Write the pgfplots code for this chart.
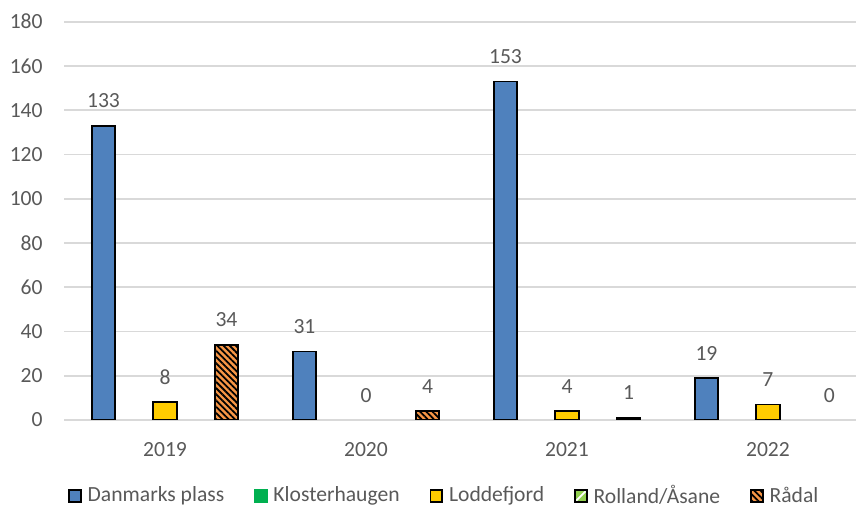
\documentclass[border=0pt]{standalone}
\usepackage{pgfplots}
\usepackage{pgfplotstable}
\pgfplotsset{compat=1.18}
\usepackage{fontspec}
\setmainfont{Carlito}
\usetikzlibrary{patterns,patterns.meta}

\definecolor{dpblue}{HTML}{4F81BD}
\definecolor{lodyellow}{HTML}{FFCC00}
\definecolor{radorange}{HTML}{F79646}
\definecolor{klgreen}{HTML}{00B050}
\definecolor{rolgreen}{HTML}{92D050}
\definecolor{gridgrey}{HTML}{D9D9D9}
\definecolor{textgrey}{HTML}{595959}

\newcommand{\chartfont}{\fontsize{10.8}{13}\selectfont}

% counts per year (0 = 2019 ... 3 = 2022)
\pgfplotstableread{
x y
0 133
1 31
2 153
3 19
}\danmarks
\pgfplotstableread{
x y
0 8
2 4
3 7
}\lodde
\pgfplotstableread{
x y
0 34
1 4
2 1
}\raadal

\begin{document}
\begin{tikzpicture}
\begin{axis}[
  at={(32.25pt,44pt)}, anchor=south west,
  scale only axis, width=395.75pt, height=199.15pt,
  ymin=0, ymax=180, ytick={0,20,...,180},
  xmin=-0.5, xmax=3.438,
  xtick={0,1,2,3}, xticklabels={2019,2020,2021,2022},
  ymajorgrids, grid style={gridgrey, line width=0.85pt},
  axis line style={draw=none}, major tick length=0pt,
  tick style={draw=none},
  tick label style={font=\chartfont, text=textgrey, inner sep=0pt},
  yticklabel style={anchor=east, xshift=-10.75pt},
  xticklabel style={anchor=north, yshift=-10.85pt},
  /pgf/number format/assume math mode=true,
  ybar, bar width=11.8pt,
  every node near coord/.append style={font=\chartfont, text=textgrey,
    inner sep=0pt, yshift=8.5pt},
  legend columns=-1,
  legend style={draw=none, fill=none, inner sep=0pt, outer sep=0pt,
    font=\chartfont, text=textgrey,
    at={(0.4786,-0.1905)}, anchor=center,
    nodes={inner sep=0pt},
    /tikz/every odd column/.append style={column sep=3pt},
    /tikz/every even column/.append style={column sep=15pt}},
]
% legend swatches
\addlegendimage{legend image code/.code={
  \draw[fill=dpblue, line width=0.8pt] (0pt,-2.95pt) rectangle (5.9pt,2.95pt);}}
\addlegendentry{Danmarks plass}
\addlegendimage{legend image code/.code={
  \fill[klgreen] (0pt,-3.1pt) rectangle (6.2pt,3.1pt);}}
\addlegendentry{Klosterhaugen}
\addlegendimage{legend image code/.code={
  \draw[fill=lodyellow, line width=0.8pt] (0pt,-2.95pt) rectangle (5.9pt,2.95pt);}}
\addlegendentry{Loddefjord}
\addlegendimage{legend image code/.code={
  \fill[rolgreen] (0pt,-2.95pt) rectangle (5.9pt,2.95pt);
  \draw[white, line width=0.9pt] (0.6pt,-2.35pt) -- (5.3pt,2.35pt);
  \draw[line width=0.8pt] (0pt,-2.95pt) rectangle (5.9pt,2.95pt);}}
\addlegendentry{Rolland/Åsane}
\addlegendimage{legend image code/.code={
  \fill[radorange] (0pt,-2.95pt) rectangle (5.9pt,2.95pt);
  \fill[pattern={Lines[angle=-45,distance=2.2pt,line width=0.9pt]}, pattern color=black]
    (0pt,-2.95pt) rectangle (5.9pt,2.95pt);
  \draw[line width=0.8pt] (0pt,-2.95pt) rectangle (5.9pt,2.95pt);}}
\addlegendentry{Rådal}

% Danmarks plass
\addplot[forget plot, draw=black, line width=0.9pt, fill=dpblue, bar shift=-30.75pt,
  nodes near coords] table {\danmarks};
% Loddefjord
\addplot[forget plot, draw=black, line width=0.9pt, fill=lodyellow, bar shift=0pt,
  nodes near coords] table {\lodde};
% Rådal: orange base, then black hatching and outline on top
\addplot[forget plot, draw=none, fill=radorange, bar shift=30.75pt] table {\raadal};
\addplot[forget plot, draw=black, line width=0.9pt, bar shift=30.75pt,
  pattern={Lines[angle=-45,distance=2.2pt,line width=0.9pt]}, pattern color=black,
  nodes near coords] table {\raadal};
% zero counts: label only
\addplot[forget plot, draw=none, fill=none, bar shift=0pt, nodes near coords]
  coordinates {(1,0)};
\addplot[forget plot, draw=none, fill=none, bar shift=30.75pt, nodes near coords]
  coordinates {(3,0)};
\end{axis}
\pgfresetboundingbox
\path[use as bounding box] (0,0) rectangle (428pt,254pt);
\end{tikzpicture}
\end{document}
